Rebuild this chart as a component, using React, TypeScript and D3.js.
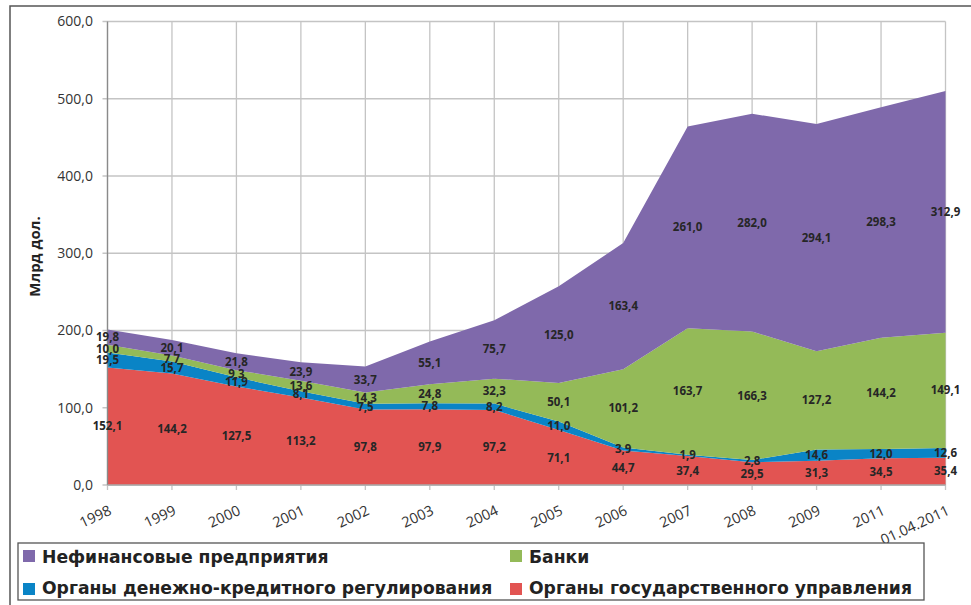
import React from "react";
import * as d3 from "d3";

const categories = ["1998", "1999", "2000", "2001", "2002", "2003", "2004", "2005", "2006", "2007", "2008", "2009", "2011", "01.04.2011"];
const govValues = [152.1, 144.2, 127.5, 113.2, 97.8, 97.9, 97.2, 71.1, 44.7, 37.4, 29.5, 31.3, 34.5, 35.4];
const monetaryValues = [19.5, 15.7, 11.9, 8.1, 7.5, 7.8, 8.2, 11.0, 3.9, 1.9, 2.8, 14.6, 12.0, 12.6];
const bankValues = [10.0, 7.7, 9.3, 13.6, 14.3, 24.8, 32.3, 50.1, 101.2, 163.7, 166.3, 127.2, 144.2, 149.1];
const nonFinValues = [19.8, 20.1, 21.8, 23.9, 33.7, 55.1, 75.7, 125.0, 163.4, 261.0, 282.0, 294.1, 298.3, 312.9];
const yTicks = [0, 100, 200, 300, 400, 500, 600];

const seriesNames = ["Органы государственного управления", "Органы денежно-кредитного регулирования", "Банки", "Нефинансовые предприятия"];
const seriesColors = ["#e25452", "#0a84c6", "#94ba58", "#7f69ab"];
const seriesData = [govValues, monetaryValues, bankValues, nonFinValues];

const FONT = "'Open Sans', 'DejaVu Sans', sans-serif";

export default function App() {
  const left = 107.5, right = 945.5, top = 21.5, bottom = 485;
  const x = d3.scalePoint<string>().domain(categories).range([left, right]);
  const y = d3.scaleLinear().domain([0, 600]).range([bottom, top]);

  const rows = categories.map((c, i) => {
    const r: any = { cat: c };
    seriesData.forEach((s, k) => (r["s" + k] = s[i]));
    return r;
  });
  const keys = seriesData.map((_, k) => "s" + k);
  const stacked = d3.stack<any>().keys(keys)(rows);
  const area = d3
    .area<any>()
    .x((d) => x(d.data.cat) as number)
    .y0((d) => y(d[0]))
    .y1((d) => y(d[1]));

  const fmt = (v: number) => v.toFixed(1).replace(".", ",");

  const legendItems = [
    { k: 3, x: 23, y: 550, tx: 42, ty: 563 },
    { k: 2, x: 510, y: 550, tx: 529, ty: 563 },
    { k: 1, x: 23, y: 583, tx: 42, ty: 594 },
    { k: 0, x: 510, y: 583, tx: 529, ty: 594 },
  ];

  return (
    <svg width={971} height={605} style={{ position: "absolute", left: 0, top: 0, background: "#fff" }} fontFamily={FONT}>
      <rect x={10} y={6} width={980} height={620} fill="#fff" stroke="#555" strokeWidth={1.5} />
      {/* gridlines */}
      {yTicks.map((t) => (
        <line key={"h" + t} x1={left - 5} x2={right} y1={y(t)} y2={y(t)} stroke="#c4c4c4" strokeWidth={1.3} />
      ))}
      {categories.map((c) => (
        <line key={"v" + c} x1={x(c)} x2={x(c)} y1={top} y2={bottom + 5} stroke="#c4c4c4" strokeWidth={1.3} />
      ))}
      {/* areas */}
      {stacked.map((s, k) => (
        <path key={k} d={area(s) || ""} fill={seriesColors[k]} />
      ))}
      {/* axis */}
      <line x1={left} x2={left} y1={top} y2={bottom} stroke="#8a8a8a" strokeWidth={1.3} />
      <line x1={left} x2={right} y1={bottom} y2={bottom} stroke="#aaa" strokeWidth={1.3} />
      {/* y labels */}
      {yTicks.map((t) => (
        <text key={"yl" + t} x={93} y={y(t)} dy="0.35em" textAnchor="end" fontSize={14} fill="#333">
          {fmt(t)}
        </text>
      ))}
      <text transform={`translate(40,${(213 + 300) / 2}) rotate(-90)`} textAnchor="middle" fontSize={15} fontWeight="bold" fill="#222">
        Млрд дол.
      </text>
      {/* x labels */}
      {categories.map((c) => (
        <text key={"xl" + c} transform={`translate(${(x(c) as number) + 5},514) rotate(-25)`} textAnchor="end" fontSize={14.5} fill="#333">
          {c}
        </text>
      ))}
      {/* data labels */}
      {stacked.map((s, k) =>
        s.map((d: any, i: number) => (
          <text
            key={"dl" + k + "-" + i}
            x={x(d.data.cat)}
            y={y((d[0] + d[1]) / 2)}
            dy="0.35em"
            textAnchor="middle"
            fontSize={11.5}
            fontWeight="bold"
            fill="#262626"
          >
            {fmt(seriesData[k][i])}
          </text>
        ))
      )}
      {/* legend */}
      <rect x={18} y={543} width={906} height={57} fill="#fff" stroke="#555" strokeWidth={1.3} />
      {legendItems.map((it) => (
        <g key={"lg" + it.k}>
          <rect x={it.x} y={it.y} width={12} height={12} fill={seriesColors[it.k]} />
          <text x={it.tx} y={it.ty} fontSize={17.2} fontWeight="bold" fill="#222" fontFamily="'DejaVu Sans', sans-serif">
            {seriesNames[it.k]}
          </text>
        </g>
      ))}
    </svg>
  );
}
